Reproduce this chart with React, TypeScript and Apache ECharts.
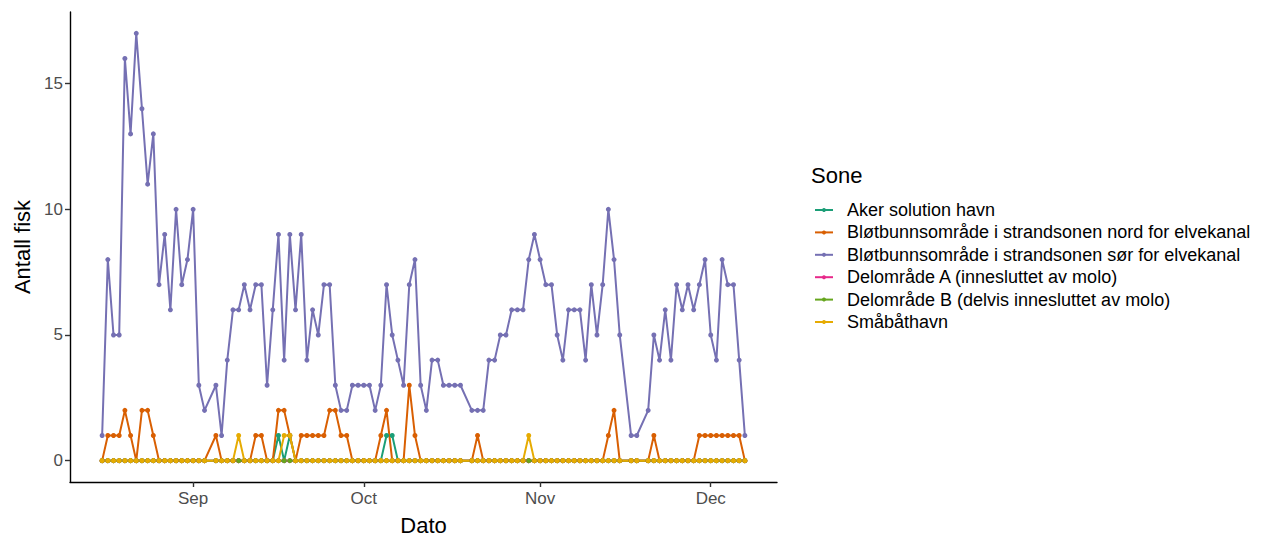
import React, { useEffect, useRef } from "react";
import * as echarts from "echarts";

// Sampling days per month (a few days have no registration)
const YEAR = 2022;
const daysAug = [16, 17, 18, 19, 20, 21, 22, 23, 24, 25, 26, 27, 28, 29, 30, 31];
const daysSep = [1, 2, 3, 5, 6, 7, 8, 9, 10, 11, 12, 13, 14, 15, 16, 17, 18, 19, 20, 21, 22, 23, 24, 25, 26, 27, 28, 29, 30];
const daysOct = [1, 2, 3, 4, 5, 6, 7, 8, 9, 10, 11, 12, 13, 14, 15, 16, 17, 18, 20, 21, 22, 23, 24, 25, 26, 27, 28, 29, 30, 31];
const daysNov = [1, 2, 3, 4, 5, 6, 7, 8, 9, 10, 11, 12, 13, 14, 15, 17, 18, 20, 21, 22, 23, 24, 25, 26, 27, 28, 29, 30];
const daysDec = [1, 2, 3, 4, 5, 6, 7];

const zoneNames = [
  "Aker solution havn",
  "Bløtbunnsområde i strandsonen nord for elvekanal",
  "Bløtbunnsområde i strandsonen sør for elvekanal",
  "Delområde A (innesluttet av molo)",
  "Delområde B (delvis innesluttet av molo)",
  "Småbåthavn",
];

const zoneColors = ["#1B9E77", "#D95F02", "#7570B3", "#E7298A", "#66A61E", "#E6AB02"];

// Fish counts per day, in the order Aug, Sep, Oct, Nov, Dec
const akerSolution = [
  0, 0, 0, 0, 0, 0, 0, 0, 0, 0, 0, 0, 0, 0, 0, 0,
  0, 0, 0, 0, 0, 0, 0, 0, 0, 0, 0, 0, 0, 0, 1, 0, 1, 0, 0, 0, 0, 0, 0, 0, 0, 0, 0, 0, 0,
  0, 0, 0, 0, 1, 1, 0, 0, 0, 0, 0, 0, 0, 0, 0, 0, 0, 0, 0, 0, 0, 0, 0, 0, 0, 0, 0, 0, 0, 0,
  0, 0, 0, 0, 0, 0, 0, 0, 0, 0, 0, 0, 0, 0, 0, 0, 0, 0, 0, 0, 0, 0, 0, 0, 0, 0, 0, 0,
  0, 0, 0, 0, 0, 0, 0,
];

const bloetNord = [
  0, 1, 1, 1, 2, 1, 0, 2, 2, 1, 0, 0, 0, 0, 0, 0,
  0, 0, 0, 1, 0, 0, 0, 0, 0, 0, 1, 1, 0, 0, 2, 2, 1, 0, 1, 1, 1, 1, 1, 2, 2, 1, 1, 0, 0,
  0, 0, 0, 1, 2, 0, 0, 0, 3, 1, 0, 0, 0, 0, 0, 0, 0, 0, 0, 1, 0, 0, 0, 0, 0, 0, 0, 0, 0, 0,
  0, 0, 0, 0, 0, 0, 0, 0, 0, 0, 0, 0, 1, 2, 0, 0, 0, 0, 1, 0, 0, 0, 0, 0, 0, 0, 1, 1,
  1, 1, 1, 1, 1, 1, 0,
];

const bloetSor = [
  1, 8, 5, 5, 16, 13, 17, 14, 11, 13, 7, 9, 6, 10, 7, 8,
  10, 3, 2, 3, 1, 4, 6, 6, 7, 6, 7, 7, 3, 6, 9, 4, 9, 6, 9, 4, 6, 5, 7, 7, 3, 2, 2, 3, 3,
  3, 3, 2, 3, 7, 5, 4, 3, 7, 8, 3, 2, 4, 4, 3, 3, 3, 3, 2, 2, 2, 4, 4, 5, 5, 6, 6, 6, 8, 9,
  8, 7, 7, 5, 4, 6, 6, 6, 4, 7, 5, 7, 10, 8, 5, 1, 1, 2, 5, 4, 6, 4, 7, 6, 7, 6, 7, 8,
  5, 4, 8, 7, 7, 4, 1,
];

const delomradeA = [
  0, 0, 0, 0, 0, 0, 0, 0, 0, 0, 0, 0, 0, 0, 0, 0,
  0, 0, 0, 0, 0, 0, 0, 0, 0, 0, 0, 0, 0, 0, 0, 0, 0, 0, 0, 0, 0, 0, 0, 0, 0, 0, 0, 0, 0,
  0, 0, 0, 0, 0, 0, 0, 0, 0, 0, 0, 0, 0, 0, 0, 0, 0, 0, 0, 0, 0, 0, 0, 0, 0, 0, 0, 0, 0, 0,
  0, 0, 0, 0, 0, 0, 0, 0, 0, 0, 0, 0, 0, 0, 0, 0, 0, 0, 0, 0, 0, 0, 0, 0, 0, 0, 0, 0,
  0, 0, 0, 0, 0, 0, 0,
];

const delomradeB = [
  0, 0, 0, 0, 0, 0, 0, 0, 0, 0, 0, 0, 0, 0, 0, 0,
  0, 0, 0, 0, 0, 0, 0, 0, 0, 0, 0, 0, 0, 0, 0, 0, 0, 0, 0, 0, 0, 0, 0, 0, 0, 0, 0, 0, 0,
  0, 0, 0, 0, 0, 0, 0, 0, 0, 0, 0, 0, 0, 0, 0, 0, 0, 0, 0, 0, 0, 0, 0, 0, 0, 0, 0, 0, 0, 0,
  0, 0, 0, 0, 0, 0, 0, 0, 0, 0, 0, 0, 0, 0, 0, 0, 0, 0, 0, 0, 0, 0, 0, 0, 0, 0, 0, 0,
  0, 0, 0, 0, 0, 0, 0,
];

const smabathavn = [
  0, 0, 0, 0, 0, 0, 0, 0, 0, 0, 0, 0, 0, 0, 0, 0,
  0, 0, 0, 0, 0, 0, 0, 1, 0, 0, 0, 0, 0, 0, 0, 1, 1, 0, 0, 0, 0, 0, 0, 0, 0, 0, 0, 0, 0,
  0, 0, 0, 0, 0, 0, 0, 0, 0, 0, 0, 0, 0, 0, 0, 0, 0, 0, 0, 0, 0, 0, 0, 0, 0, 0, 0, 0, 1, 0,
  0, 0, 0, 0, 0, 0, 0, 0, 0, 0, 0, 0, 0, 0, 0, 0, 0, 0, 0, 0, 0, 0, 0, 0, 0, 0, 0, 0,
  0, 0, 0, 0, 0, 0, 0,
];

const zoneValues = [akerSolution, bloetNord, bloetSor, delomradeA, delomradeB, smabathavn];

// Axis ticks
const yTicks = [0, 5, 10, 15];
const monthTickDates = ["2022-09-01", "2022-10-01", "2022-11-01", "2022-12-01"];
const monthTickLabels = ["Sep", "Oct", "Nov", "Dec"];

const FONT = "'Liberation Sans', Arial, Helvetica, sans-serif";

function toTime(s: string): number {
  const [y, m, d] = s.split("-").map(Number);
  return new Date(y, m - 1, d).getTime();
}

function monthDates(month: number, days: number[]): number[] {
  return days.map((d) => new Date(YEAR, month - 1, d).getTime());
}

const dates: number[] = [
  ...monthDates(8, daysAug),
  ...monthDates(9, daysSep),
  ...monthDates(10, daysOct),
  ...monthDates(11, daysNov),
  ...monthDates(12, daysDec),
];

export default function App() {
  const ref = useRef<HTMLDivElement | null>(null);

  useEffect(() => {
    if (!ref.current) return;
    const chart = echarts.init(ref.current, null, { renderer: "svg" });

    const first = dates[0];
    const last = dates[dates.length - 1];
    const pad = (last - first) * 0.05;
    const xTickTimes = monthTickDates.map(toTime);

    const series = zoneNames.map((name, k) => ({
      type: "line",
      name,
      data: dates.map((t, i) => [t, zoneValues[k][i]]),
      symbol: "circle",
      symbolSize: 5,
      showSymbol: true,
      showAllSymbol: true,
      lineStyle: { width: 2, color: zoneColors[k] },
      itemStyle: { color: zoneColors[k] },
      emphasis: { disabled: true },
    }));

    chart.setOption({
      animation: false,
      backgroundColor: "#ffffff",
      textStyle: { fontFamily: FONT },
      title: {
        text: "Sone",
        left: 806,
        top: 159,
        textStyle: { fontFamily: FONT, fontSize: 22, fontWeight: "normal", color: "#000000" },
      },
      legend: {
        orient: "vertical",
        left: 809,
        top: 196,
        itemWidth: 18,
        itemHeight: 5,
        itemGap: 4.4,
        data: zoneNames,
        textStyle: {
          fontFamily: FONT,
          fontSize: 18,
          lineHeight: 18,
          color: "#000000",
          padding: [0, 0, 0, 9],
        },
      },
      grid: { left: 70, right: 488, top: 12, bottom: 55, outerBoundsMode: "none", containLabel: false },
      xAxis: {
        type: "value",
        min: first - pad,
        max: last + pad,
        name: "Dato",
        nameLocation: "middle",
        nameGap: 32,
        nameTextStyle: { fontFamily: FONT, fontSize: 22, color: "#000000" },
        axisLine: { show: true, onZero: false, lineStyle: { color: "#000000", width: 1.4 } },
        axisTick: { show: true, customValues: xTickTimes, length: 5, lineStyle: { color: "#333333", width: 1.4 } },
        axisLabel: {
          customValues: xTickTimes,
          fontFamily: FONT,
          fontSize: 17,
          color: "#4D4D4D",
          margin: 8,
          formatter: (v: number) => {
            const idx = xTickTimes.indexOf(v);
            return idx >= 0 ? monthTickLabels[idx] : "";
          },
        },
        splitLine: { show: false },
      },
      yAxis: {
        type: "value",
        min: -0.85,
        max: 17.85,
        name: "Antall fisk",
        nameLocation: "middle",
        nameGap: 37,
        nameTextStyle: { fontFamily: FONT, fontSize: 22, color: "#000000" },
        axisLine: { show: true, lineStyle: { color: "#000000", width: 1.4 } },
        axisTick: { show: true, customValues: yTicks, length: 5, lineStyle: { color: "#333333", width: 1.4 } },
        axisLabel: {
          customValues: yTicks,
          fontFamily: FONT,
          fontSize: 17,
          color: "#4D4D4D",
          margin: 7,
        },
        splitLine: { show: false },
      },
      series,
    });

    return () => chart.dispose();
  }, []);

  return (
    <div
      ref={ref}
      style={{ position: "absolute", left: 0, top: 0, width: 1265, height: 537, background: "#ffffff" }}
    />
  );
}
